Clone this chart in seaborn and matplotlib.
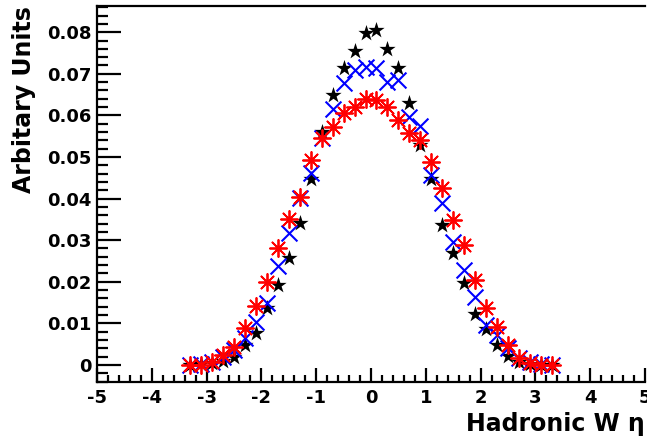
import numpy as np
import matplotlib
matplotlib.use("Agg")
import matplotlib.pyplot as plt
from matplotlib.ticker import MultipleLocator, FuncFormatter
import seaborn as sns

# bin centres of the eta histogram
eta = [-3.3, -3.1, -2.9, -2.7, -2.5, -2.3, -2.1, -1.9, -1.7, -1.5, -1.3, -1.1,
       -0.9, -0.7, -0.5, -0.3, -0.1, 0.1, 0.3, 0.5, 0.7, 0.9, 1.1, 1.3,
       1.5, 1.7, 1.9, 2.1, 2.3, 2.5, 2.7, 2.9, 3.1, 3.3]

# black stars
black_vals = [0.0000, 0.0002, 0.0004, 0.0010, 0.0019, 0.0047, 0.0077, 0.0137, 0.0192, 0.0257, 0.0341, 0.0447,
              0.0560, 0.0649, 0.0714, 0.0754, 0.0797, 0.0806, 0.0760, 0.0714, 0.0630, 0.0529, 0.0447, 0.0337,
              0.0269, 0.0197, 0.0123, 0.0087, 0.0048, 0.0022, 0.0008, 0.0003, 0.0001, 0.0000]
# blue crosses
blue_vals = [0.0001, 0.0003, 0.0007, 0.0018, 0.0036, 0.0065, 0.0103, 0.0150, 0.0238, 0.0317, 0.0401, 0.0462,
             0.0546, 0.0615, 0.0678, 0.0709, 0.0716, 0.0715, 0.0681, 0.0686, 0.0596, 0.0574, 0.0457, 0.0389,
             0.0295, 0.0228, 0.0163, 0.0096, 0.0072, 0.0041, 0.0017, 0.0008, 0.0003, 0.0001]
# red asterisks
red_vals = [0.0000, 0.0001, 0.0007, 0.0024, 0.0043, 0.0089, 0.0142, 0.0200, 0.0282, 0.0351, 0.0404, 0.0493,
            0.0546, 0.0572, 0.0606, 0.0620, 0.0639, 0.0637, 0.0620, 0.0589, 0.0558, 0.0541, 0.0488, 0.0425,
            0.0349, 0.0289, 0.0204, 0.0137, 0.0091, 0.0048, 0.0017, 0.0005, 0.0001, 0.0000]

sns.set_style("white")
plt.rcParams['font.family'] = ['DejaVu Sans']
plt.rcParams['font.weight'] = 'bold'
plt.rcParams['text.color'] = 'black'
plt.rcParams['axes.labelcolor'] = 'black'
plt.rcParams['xtick.color'] = 'black'
plt.rcParams['ytick.color'] = 'black'

fig = plt.figure(figsize=(6.47, 4.41), dpi=100)
ax = fig.add_axes([97/647, 59/441, 548/647, 376/441])

sns.scatterplot(x=eta, y=black_vals, marker='*', color='black', s=150, linewidth=0, ax=ax, zorder=3)
sns.scatterplot(x=eta, y=blue_vals, marker='x', color='blue', s=130, linewidth=1.5, ax=ax, zorder=4)
sns.scatterplot(x=eta, y=red_vals, marker=(8, 2, 0), color='red', s=150, linewidth=1.3, ax=ax, zorder=5)

ax.set_xlim(-5, 5)
ax.set_ylim(-0.0041, 0.0863)

ax.xaxis.set_major_locator(MultipleLocator(1))
ax.xaxis.set_minor_locator(MultipleLocator(0.2))
ax.yaxis.set_major_locator(MultipleLocator(0.01))
ax.yaxis.set_minor_locator(MultipleLocator(0.002))
ax.yaxis.set_major_formatter(FuncFormatter(lambda v, p: "0" if abs(v) < 1e-9 else f"{v:.2f}"))
ax.xaxis.set_major_formatter(FuncFormatter(lambda v, p: f"{v:.0f}"))

ax.tick_params(axis='both', which='both', direction='in', width=1.6, labelsize=13,
               bottom=True, left=True, top=False, right=False, colors='black')
ax.tick_params(axis='x', which='major', length=10, pad=5)
ax.tick_params(axis='x', which='minor', length=5)
ax.tick_params(axis='y', which='major', length=17, pad=4)
ax.tick_params(axis='y', which='minor', length=8)

for side in ['left', 'bottom', 'top']:
    ax.spines[side].set_linewidth(1.6)
    ax.spines[side].set_color('black')
ax.spines['right'].set_visible(False)

ax.set_xlabel("Hadronic W η", fontsize=17, fontweight='bold', loc='right', labelpad=4)
ax.set_ylabel("Arbitary Units", fontsize=17, fontweight='bold', loc='top', labelpad=8)

fig.savefig("out.png", dpi=100)
